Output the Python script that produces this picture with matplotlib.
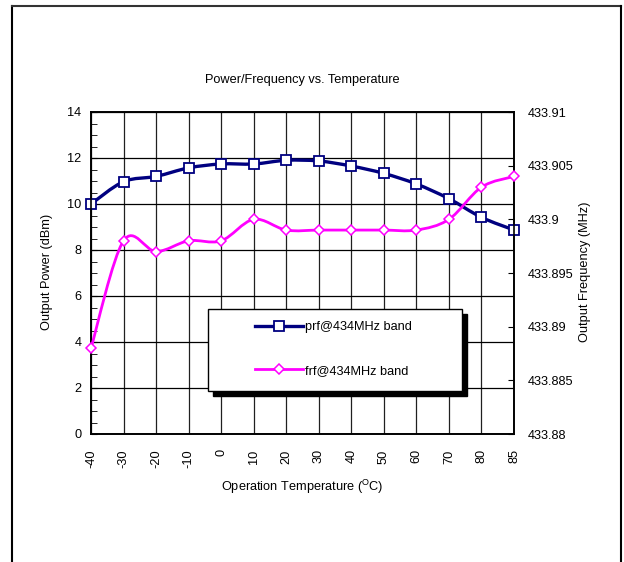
import numpy as np
import matplotlib
matplotlib.use("Agg")
import matplotlib.pyplot as plt
from matplotlib.path import Path
from matplotlib.patches import PathPatch, Rectangle
from matplotlib.lines import Line2D

plt.rcParams['font.family'] = ['Liberation Sans', 'DejaVu Sans']
plt.rcParams['mathtext.fontset'] = 'custom'
plt.rcParams['mathtext.rm'] = 'Liberation Sans'

temps = ["-40", "-30", "-20", "-10", "0", "10", "20", "30", "40", "50", "60", "70", "80", "85"]
prf = [10.0, 10.97, 11.2, 11.57, 11.74, 11.74, 11.9, 11.87, 11.65, 11.33, 10.87, 10.23, 9.42, 8.87]
frf = [433.888, 433.898, 433.897, 433.898, 433.898, 433.900, 433.899, 433.899,
       433.899, 433.899, 433.899, 433.900, 433.903, 433.904]
power_ticks = [0, 2, 4, 6, 8, 10, 12, 14]
freq_ticks = [433.88, 433.885, 433.89, 433.895, 433.9, 433.905, 433.91]
freq_labels = ["433.88", "433.885", "433.89", "433.895", "433.9", "433.905", "433.91"]

FS = 9.2


def smooth_path(x, y):
    # excel style smoothed line: catmull-rom segments as cubic beziers
    pts = np.column_stack([x, y]).astype(float)
    verts = [pts[0]]
    codes = [Path.MOVETO]
    n = len(pts)
    for i in range(n - 1):
        p0 = pts[max(i - 1, 0)]
        p1 = pts[i]
        p2 = pts[i + 1]
        p3 = pts[min(i + 2, n - 1)]
        c1 = p1 + (p2 - p0) / 6.0
        c2 = p2 - (p3 - p1) / 6.0
        verts += [c1, c2, p2]
        codes += [Path.CURVE4] * 3
    return Path(verts, codes)


fig = plt.figure(figsize=(6.24, 5.62), dpi=100)
W, H = 624, 562
ax = fig.add_axes([91 / W, 1 - 434 / H, 423 / W, 322 / H])
ax2 = ax.twinx()

x = np.arange(len(temps))

navy = "#000080"
mag = "#FF00FF"

ax.add_patch(PathPatch(smooth_path(x, prf), facecolor='none', edgecolor=navy, lw=2.4, zorder=3))
ax.plot(x, prf, ls='none', marker='s', ms=7.5, mfc='white', mec=navy, mew=1.3, zorder=4, clip_on=False)

ax2.add_patch(PathPatch(smooth_path(x, frf), facecolor='none', edgecolor=mag, lw=2.0, zorder=3))
ax2.plot(x, frf, ls='none', marker='D', ms=5.5, mfc='white', mec=mag, mew=1.1, zorder=4, clip_on=False)

ax.set_xlim(0, len(temps) - 1)
ax.set_ylim(0, 14)
ax2.set_ylim(433.88, 433.91)

ax.set_xticks(x)
ax.set_xticklabels(temps, rotation=90, fontsize=FS)
ax.tick_params(axis='x', length=0, pad=11)
ax.set_yticks(power_ticks)
ax.set_yticks(np.arange(0, 14.01, 0.5), minor=True)
ax.tick_params(axis='y', direction='in', length=4, labelsize=FS, pad=7)
ax.tick_params(axis='y', which='minor', direction='in', length=4)
ax.grid(True, axis='y', color='black', lw=0.9)
ax.grid(True, axis='x', color='#202020', lw=0.9)
ax.set_axisbelow(True)

ax2.set_yticks(freq_ticks)
ax2.set_yticklabels(freq_labels)
ax2.tick_params(axis='y', direction='in', length=4, labelsize=FS, pad=10)

for a in (ax, ax2):
    for s in a.spines.values():
        s.set_linewidth(1.2)

fig.text(302 / W, 1 - 80 / H, "Power/Frequency vs. Temperature", ha='center', va='center', fontsize=FS)
fig.text(47 / W, 1 - 272 / H, "Output Power (dBm)", ha='center', va='center', rotation=90, fontsize=FS)
fig.text(585 / W, 1 - 272 / H, "Output Frequency (MHz)", ha='center', va='center', rotation=90, fontsize=FS)
fig.text(302 / W, 1 - 487 / H, r"Operation Temperature ($^{\mathrm{O}}$C)", ha='center', va='center', fontsize=FS)

# legend box with hard black shadow
fig.add_artist(Rectangle((213 / W, 1 - 396 / H), 254 / W, 82 / H, transform=fig.transFigure,
                         facecolor='black', edgecolor='black', zorder=5))
fig.add_artist(Rectangle((208 / W, 1 - 391 / H), 254 / W, 82 / H, transform=fig.transFigure,
                         facecolor='white', edgecolor='black', lw=1.0, zorder=6))
handles = [Line2D([], [], color=navy, lw=2.4, marker='s', ms=7.5, mfc='white', mec=navy, mew=1.3),
           Line2D([], [], color=mag, lw=2.0, marker='D', ms=5.5, mfc='white', mec=mag, mew=1.1)]
leg = fig.legend(handles, ["prf@434MHz band", "frf@434MHz band"], loc='center left',
                 bbox_to_anchor=(255 / W, 1 - 349 / H), frameon=False, fontsize=FS,
                 handlelength=3.75, handletextpad=0.2, labelspacing=2.45, borderpad=0, borderaxespad=0)
leg.set_zorder(10)

# page frame (open at the bottom)
fig.add_artist(Line2D([12 / W, 12 / W], [0, 1 - 6 / H], transform=fig.transFigure, color='black', lw=1.5))
fig.add_artist(Line2D([12 / W, 621 / W], [1 - 6 / H, 1 - 6 / H], transform=fig.transFigure, color='#333333', lw=1.5))
fig.add_artist(Line2D([621 / W, 621 / W], [0, 1 - 6 / H], transform=fig.transFigure, color='black', lw=1.5))

fig.savefig("out.png", dpi=100)
